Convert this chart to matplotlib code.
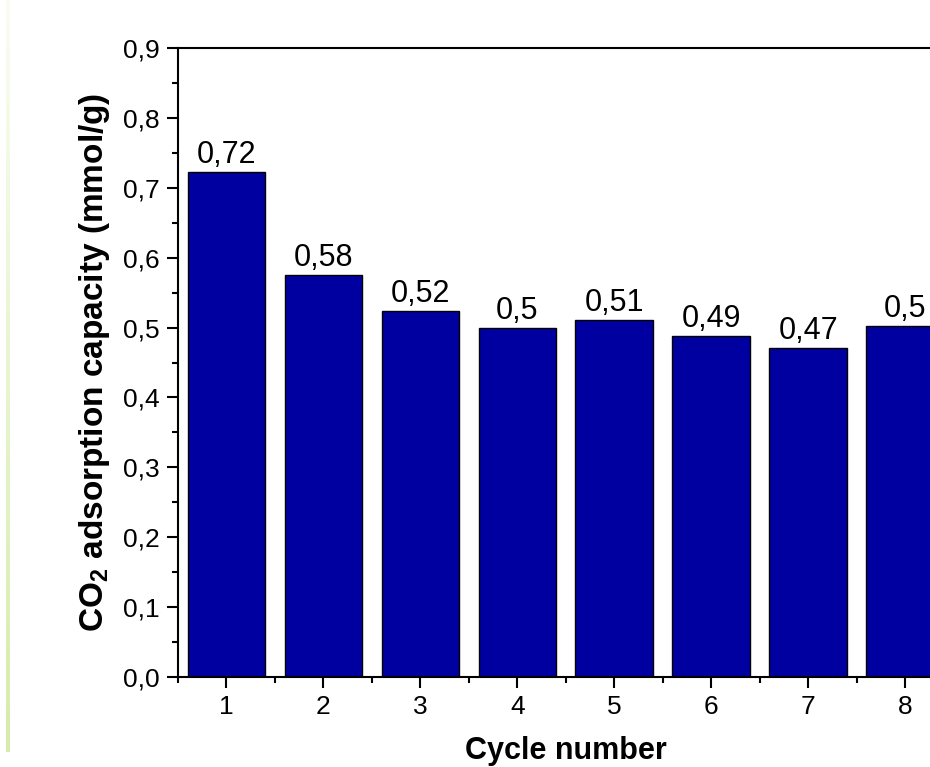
import matplotlib
matplotlib.use('Agg')
import matplotlib.pyplot as plt
import numpy as np
from matplotlib.ticker import MultipleLocator, FuncFormatter
from matplotlib.colors import LinearSegmentedColormap

plt.rcParams['font.family'] = ['Liberation Sans', 'DejaVu Sans']
plt.rcParams['mathtext.fontset'] = 'custom'
plt.rcParams['mathtext.bf'] = 'Liberation Sans:bold'

# data
cycles = [1, 2, 3, 4, 5, 6, 7, 8]
capacity = [0.723, 0.575, 0.524, 0.499, 0.511, 0.488, 0.471, 0.502]
bar_labels = ['0,72', '0,58', '0,52', '0,5', '0,51', '0,49', '0,47', '0,5']

fig = plt.figure(figsize=(9.30, 7.67), dpi=100)

# faint green strip at the left edge of the original picture
strip = fig.add_axes([6 / 930, 0.02, 4 / 930, 0.98])
grad = np.linspace(0, 1, 256).reshape(-1, 1)
cmap = LinearSegmentedColormap.from_list('g', ['#d6ecaa', '#fafdf3'])
strip.imshow(grad, aspect='auto', cmap=cmap, origin='lower')
strip.axis('off')

ax = fig.add_axes([178 / 930, 90 / 767, (953.5 - 178) / 930, (677 - 48) / 767])
ax.bar(cycles, capacity, width=0.8, color='#0000a0', edgecolor='black', linewidth=1.0, zorder=2)

for x, v, s in zip(cycles, capacity, bar_labels):
    ax.text(x, v + 0.003, s, ha='center', va='bottom', fontsize=22)

ax.set_xlim(0.5, 8.5)
ax.set_ylim(0, 0.9)
ax.set_xticks(cycles)
ax.xaxis.set_minor_locator(MultipleLocator(0.5))
ax.yaxis.set_major_locator(MultipleLocator(0.1))
ax.yaxis.set_minor_locator(MultipleLocator(0.05))
ax.yaxis.set_major_formatter(FuncFormatter(lambda v, p: f'{v:.1f}'.replace('.', ',')))

for sp in ax.spines.values():
    sp.set_linewidth(1.5)
ax.spines['right'].set_visible(False)

ax.tick_params(which='major', direction='out', length=8, width=1.5, labelsize=19, pad=5)
ax.tick_params(which='minor', direction='out', length=4, width=1.5)

ax.set_xlabel('Cycle number', fontsize=22, fontweight='bold', labelpad=12)
ax.set_ylabel('CO$_\\mathbf{2}$ adsorption capacity (mmol/g)', fontsize=24, fontweight='bold', labelpad=8)

fig.savefig('out.png', dpi=100)
